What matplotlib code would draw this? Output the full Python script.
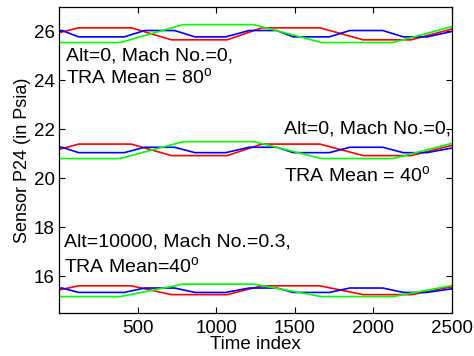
import matplotlib
matplotlib.use("Agg")
import matplotlib.pyplot as plt

plt.rcParams['font.family'] = ['Liberation Sans', 'DejaVu Sans']
plt.rcParams['mathtext.fontset'] = 'custom'
plt.rcParams['mathtext.rm'] = 'Liberation Sans'

# breakpoints (time index) of each colour's curve, same shape in every group
red_x = [0, 125, 460, 715, 1070, 1290, 1660, 1935, 2240, 2500]
blue_x = [0, 20, 125, 415, 545, 735, 865, 1060, 1210, 1385, 1490, 1720, 1850, 2060, 2190, 2340, 2500]
green_x = [0, 390, 790, 1240, 1670, 2125, 2500]

# Alt=0, Mach=0, TRA 80
red_top = [25.95, 26.15, 26.15, 25.66, 25.66, 26.15, 26.15, 25.66, 25.66, 26.10]
blue_top = [26.04, 26.04, 25.78, 25.78, 26.04, 26.04, 25.78, 25.78, 26.04, 26.04, 25.78, 25.78, 26.04, 26.04, 25.78, 25.78, 26.00]
green_top = [25.55, 25.55, 26.28, 26.28, 25.55, 25.55, 26.20]

# Alt=0, Mach=0, TRA 40
red_mid = [21.18, 21.40, 21.40, 20.93, 20.93, 21.40, 21.40, 20.93, 20.93, 21.35]
blue_mid = [21.27, 21.27, 21.05, 21.05, 21.27, 21.27, 21.05, 21.05, 21.27, 21.27, 21.05, 21.05, 21.27, 21.27, 21.05, 21.05, 21.24]
green_mid = [20.81, 20.81, 21.50, 21.50, 20.81, 20.81, 21.43]

# Alt=10000, Mach=0.3, TRA 40
red_bot = [15.44, 15.61, 15.61, 15.25, 15.25, 15.61, 15.61, 15.25, 15.25, 15.57]
blue_bot = [15.52, 15.52, 15.34, 15.34, 15.52, 15.52, 15.34, 15.34, 15.52, 15.52, 15.34, 15.34, 15.52, 15.52, 15.34, 15.34, 15.49]
green_bot = [15.17, 15.17, 15.68, 15.68, 15.17, 15.17, 15.62]

fig = plt.figure(figsize=(4.74, 3.56), dpi=100)
ax = fig.add_axes([0.1245, 0.1208, 0.8291, 0.8595])

for r, b, g in [(red_top, blue_top, green_top), (red_mid, blue_mid, green_mid), (red_bot, blue_bot, green_bot)]:
    ax.plot(red_x, r, color=(1, 0, 0), lw=1.2)
    ax.plot(blue_x, b, color=(0, 0, 1), lw=1.2)
    ax.plot(green_x, g, color=(0, 1, 0), lw=1.2)

fs = 14
ax.text(45, 25.0, 'Alt=0, Mach No.=0,', fontsize=fs, va='center')
ax.text(45, 24.1, 'TRA Mean = 80$^{\\mathrm{o}}$', fontsize=fs, va='center')
ax.text(1431, 22.02, 'Alt=0, Mach No.=0,', fontsize=fs, va='center')
ax.text(1431, 20.11, 'TRA Mean = 40$^{\\mathrm{o}}$', fontsize=fs, va='center')
ax.text(32, 17.41, 'Alt=10000, Mach No.=0.3,', fontsize=fs, va='center')
ax.text(32, 16.4, 'TRA Mean=40$^{\\mathrm{o}}$', fontsize=fs, va='center')

ax.set_xlim(0, 2500)
ax.set_ylim(14.5, 27)
ax.set_xticks([500, 1000, 1500, 2000, 2500])
ax.set_yticks([16, 18, 20, 22, 24, 26])
ax.tick_params(direction='in', top=True, right=True, length=4, width=0.8, labelsize=13.5)
ax.tick_params(axis='x', pad=5)
ax.tick_params(axis='y', pad=3)
for s in ax.spines.values():
    s.set_linewidth(0.9)
ax.set_xlabel('Time index', fontsize=13.5, labelpad=-1)
ax.set_ylabel('Sensor P24 (in Psia)', fontsize=13, labelpad=2)

fig.savefig('out.png', dpi=100)
